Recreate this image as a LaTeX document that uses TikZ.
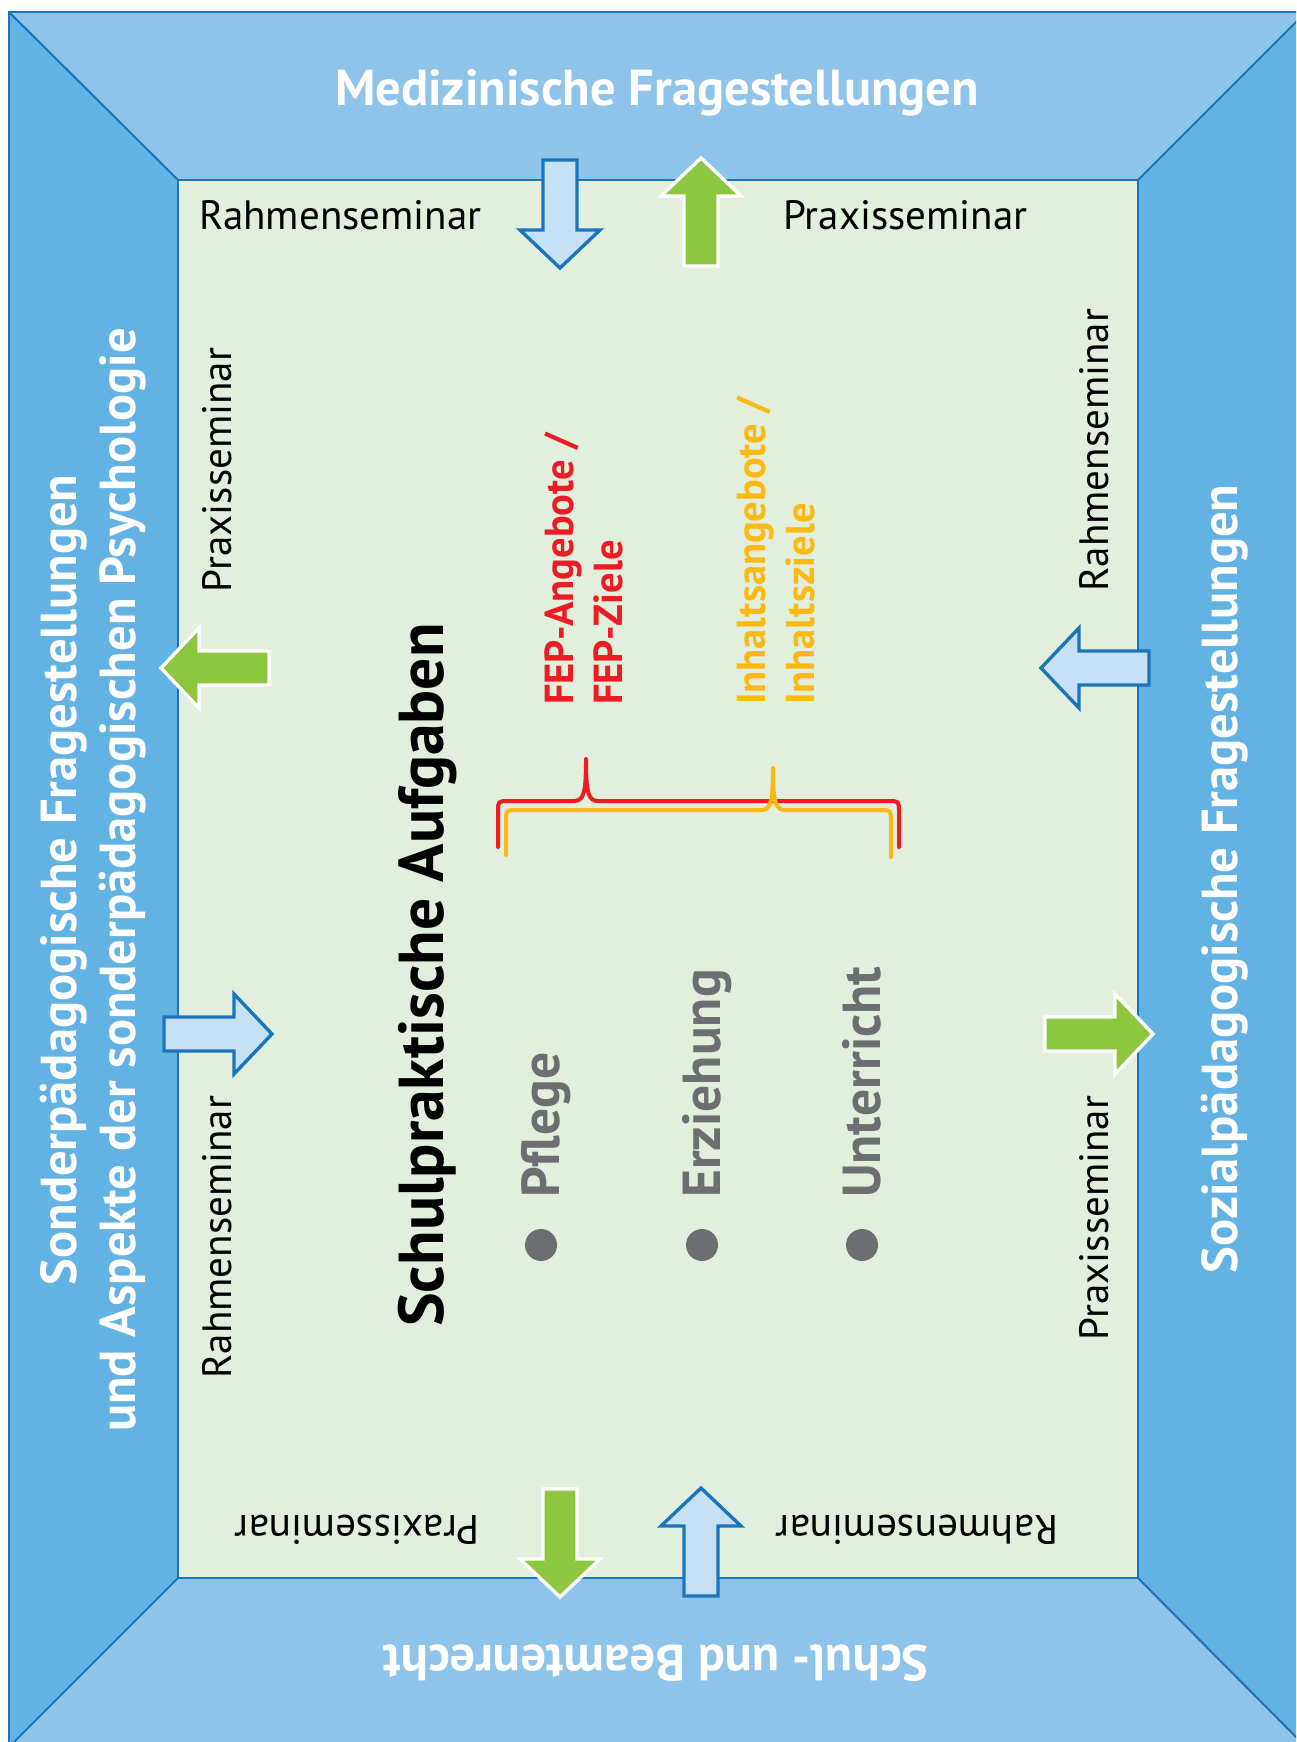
\documentclass[tikz,border=0pt]{standalone}
\usepackage{fontspec}
\setmainfont{PT Sans}
\definecolor{frameTB}{HTML}{8EC4EA}
\definecolor{frameLR}{HTML}{62B3E4}
\definecolor{lineblue}{HTML}{1B75BC}
\definecolor{innergreen}{HTML}{E1EFDC}
\definecolor{arrowblue}{HTML}{C6E1F5}
\definecolor{arrowgreen}{HTML}{8DC63F}
\definecolor{fepred}{HTML}{ED1C24}
\definecolor{inhorange}{HTML}{FDB913}
\definecolor{taskgray}{HTML}{6D6E71}
\tikzset{
  arr/.pic={\path[pic actions] (0,0) -- (-38,-40) -- (-38,-17) -- (-108,-17) -- (-108,17) -- (-38,17) -- (-38,40) -- cycle;},
  bluearr/.style={draw=lineblue, fill=arrowblue, line width=3.4pt, line join=miter},
  greenarr/.style={draw=white, fill=arrowgreen, line width=3.4pt, line join=miter},
  lbl/.style={font=\fontsize{41}{48}\selectfont, text=black, inner sep=0pt},
  ttl/.style={font=\fontsize{50.5}{58}\selectfont\bfseries, text=white, inner sep=0pt},
  mainttl/.style={font=\fontsize{63.5}{72}\selectfont\bfseries, text=black, inner sep=0pt},
  fep/.style={font=\fontsize{40.5}{48}\selectfont\bfseries, inner sep=0pt},
  task/.style={font=\fontsize{53.5}{60}\selectfont\bfseries, text=taskgray, inner sep=0pt},
  brace/.style={line width=4pt, line cap=round, line join=round},
}
\begin{document}
\begin{tikzpicture}[x=1pt,y=-1pt]
\useasboundingbox (0,0) rectangle (1296,1742);
\clip (0,0) rectangle (1296,1742);
% frame
\fill[frameTB] (9,12) -- (1306,12) -- (1138,180) -- (178,180) -- cycle;
\fill[frameTB] (178,1578) -- (1138,1578) -- (1306,1747) -- (9,1747) -- cycle;
\fill[frameLR] (9,12) -- (178,180) -- (178,1578) -- (9,1747) -- cycle;
\fill[frameLR] (1306,12) -- (1138,180) -- (1138,1578) -- (1306,1747) -- cycle;
\fill[innergreen] (178,180) rectangle (1138,1578);
\draw[lineblue, line width=2pt] (9,1747) -- (9,12) -- (1306,12);
\draw[lineblue, line width=2pt] (178,180) rectangle (1138,1578);
\draw[lineblue, line width=2pt] (9,12) -- (178,180);
\draw[lineblue, line width=2pt] (1306,12) -- (1138,180);
\draw[lineblue, line width=2pt] (1138,1578) -- (1306,1747);
\draw[lineblue, line width=2pt] (178,1578) -- (9,1747);
% frame titles
\node[ttl, anchor=base] (med) at (657,106) {Medizinische Fragestellungen};
\node[ttl, anchor=base, rotate=180] (schul) at (656,1645) {Schul- und Beamtenrecht};
\node[ttl, anchor=base, rotate=90] (sond1) at (76,880) {Sonderpädagogische Fragestellungen};
\node[ttl, anchor=base, rotate=90] (sond2) at (135,880) {und Aspekte der sonderpädagogischen Psychologie};
\node[ttl, anchor=base, rotate=90] (sozial) at (1237,879) {Sozialpädagogische Fragestellungen};
% seminar labels
\node[lbl, anchor=base west] (rT) at (199,229) {Rahmenseminar};
\node[lbl, anchor=base west] (pT) at (783,229) {Praxisseminar};
\node[lbl, anchor=base, rotate=90] (pL) at (231,470) {Praxisseminar};
\node[lbl, anchor=base, rotate=90] (rL) at (231,1237) {Rahmenseminar};
\node[lbl, anchor=base, rotate=90] (rR) at (1108,450) {Rahmenseminar};
\node[lbl, anchor=base, rotate=90] (pR) at (1108,1218) {Praxisseminar};
\node[lbl, anchor=base, rotate=180] (pB) at (357,1515) {Praxisseminar};
\node[lbl, anchor=base, rotate=180] (rB) at (917,1515) {Rahmenseminar};
% arrows
\pic[bluearr, rotate=-90] at (560,268) {arr};
\pic[greenarr, rotate=90] at (701,158) {arr};
\pic[greenarr, rotate=180] at (161,668) {arr};
\pic[bluearr, rotate=180] at (1041,668) {arr};
\pic[bluearr] at (272,1034) {arr};
\pic[greenarr] at (1153,1034) {arr};
\pic[greenarr, rotate=-90] at (560,1597) {arr};
\pic[bluearr, rotate=90] at (701,1488) {arr};
% center
\node[mainttl, anchor=base, rotate=90] (main) at (443,975) {Schulpraktische Aufgaben};
\node[fep, text=fepred, anchor=base west, rotate=90] (fep1) at (573,705) {FEP-Angebote /};
\node[fep, text=fepred, anchor=base west, rotate=90] (fep2) at (622,705) {FEP-Ziele};
\node[fep, text=inhorange, anchor=base west, rotate=90] (inh1) at (765,705) {Inhaltsangebote /};
\node[fep, text=inhorange, anchor=base west, rotate=90] (inh2) at (814,705) {Inhaltsziele};
% braces
\draw[brace, fepred] (498,847) -- (498,812) .. controls (498,801) .. (509,801) -- (574,801)
  .. controls (584,801) and (586,792) .. (586,759) .. controls (586,792) and (588,801) .. (598,801)
  -- (888,801) .. controls (899,801) .. (899,812) -- (899,847);
\draw[brace, inhorange] (506,855) -- (506,821) .. controls (506,810) .. (517,810) -- (761,810)
  .. controls (771,810) and (773,801) .. (773,768) .. controls (773,801) and (775,810) .. (785,810)
  -- (880,810) .. controls (891,810) .. (891,821) -- (891,857);
% tasks
\fill[taskgray] (541,1245) circle[radius=16];
\fill[taskgray] (702,1245) circle[radius=16];
\fill[taskgray] (862,1245) circle[radius=16];
\node[task, anchor=base west, rotate=90] (pflege) at (559,1198) {Pflege};
\node[task, anchor=base west, rotate=90] (erz) at (720,1198) {Erziehung};
\node[task, anchor=base west, rotate=90] (unt) at (880,1198) {Unterricht};
\end{tikzpicture}
\end{document}
